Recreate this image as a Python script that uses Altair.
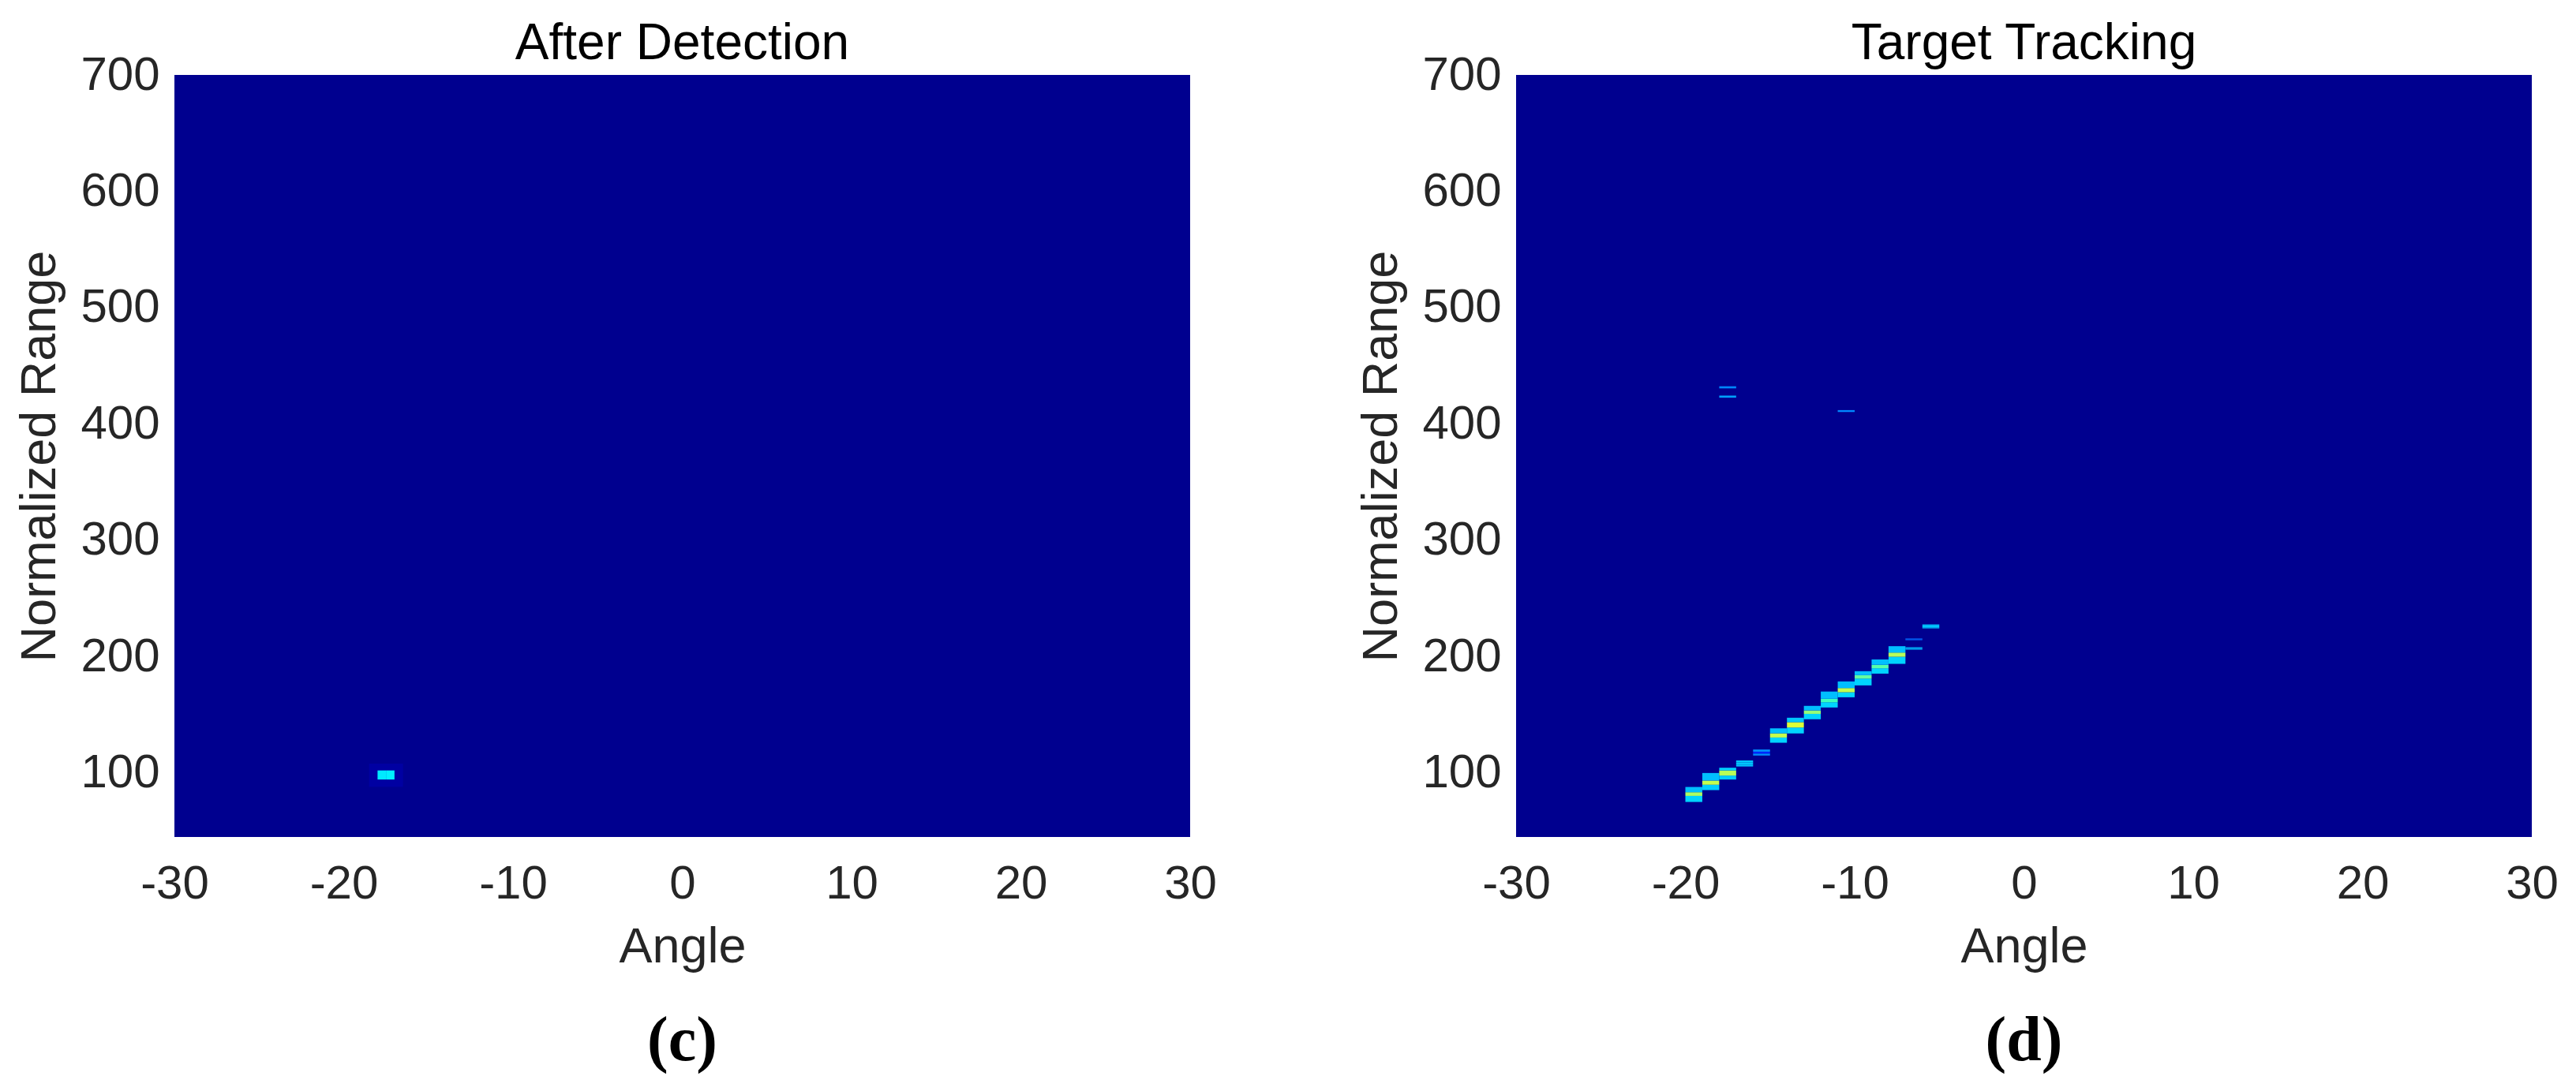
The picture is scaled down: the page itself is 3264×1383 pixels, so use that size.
import altair as alt
import pandas as pd

# ---------------- axes ----------------
x_ticks = [-30, -20, -10, 0, 10, 20, 30]
y_ticks = [100, 200, 300, 400, 500, 600, 700]
x_domain = [-30, 30]
y_domain = [45, 700]

# MATLAB jet(64) colour stops
jet_stops = [0.0, 0.111, 0.365, 0.619, 0.873, 1.0]
jet_colors = ["#00008f", "#0000ff", "#00ffff", "#ffff00", "#ff0000", "#800000"]

titles = ["After Detection", "Target Tracking"]
panel_labels = ["(c)", "(d)"]

# ---------------- panel (c): after detection ----------------
c_angle_lo = [-18.5, -18.0, -17.5]
c_angle_hi = [-16.5, -17.5, -17.0]
c_range_lo = [88.0, 94.4, 94.4]
c_range_hi = [108.0, 102.2, 102.2]
c_value = [0.02, 0.33, 0.34]

# ---------------- panel (d): target tracking ----------------
d_angle_lo = [-20, -19, -18, -17, -16, -15, -14, -13, -12, -11, -10, -9, -8, -7, -7, -6]
d_range_lo = [75.1, 85.3, 94.4, 105.6, 115.0, 126.0, 134.0, 146.2, 156.3, 165.1, 175.3, 185.4, 193.8, 206.0, 214.2, 224.3]
d_range_hi = [88.0, 100.0, 104.5, 110.8, 120.2, 138.4, 147.5, 157.7, 170.0, 178.7, 187.5, 197.6, 209.0, 208.0, 215.7, 227.7]
d_peak_range = [81.9, 91.7, 100.0, 108.2, 117.5, 132.3, 141.4, 152.3, 162.3, 171.2, 182.6, 191.5, 201.7, 207.0, 215.0, 226.0]
d_peak_half = [1.6, 1.8, 2.2, 1.0, 0.8, 1.8, 2.3, 1.5, 1.5, 1.8, 1.5, 1.5, 1.8, 0.5, 0.4, 0.8]
d_upper_val = [0.27, 0.27, 0.30, 0.28, 0.21, 0.27, 0.28, 0.27, 0.27, 0.27, 0.27, 0.27, 0.27, 0.27, 0.17, 0.28]
d_peak_val = [0.55, 0.57, 0.56, 0.28, 0.12, 0.57, 0.59, 0.53, 0.46, 0.57, 0.49, 0.48, 0.56, 0.27, 0.17, 0.28]
d_lower_val = [0.30, 0.29, 0.29, 0.28, 0.21, 0.30, 0.30, 0.30, 0.30, 0.30, 0.30, 0.30, 0.30, 0.27, 0.17, 0.28]

# faint isolated returns
f_angle_lo = [-18, -18, -11]
f_range_lo = [430.6, 422.6, 410.3]
f_range_hi = [432.4, 424.4, 411.9]
f_value = [0.20, 0.23, 0.20]

# ---------------- tables ----------------
c_df = pd.DataFrame({"a0": c_angle_lo, "a1": c_angle_hi, "r0": c_range_lo,
                     "r1": c_range_hi, "v": c_value})

rows = []
for i in range(len(d_angle_lo)):
    a0 = d_angle_lo[i]
    a1 = a0 + 1
    lo, hi = d_range_lo[i], d_range_hi[i]
    pk, h = d_peak_range[i], d_peak_half[i]
    rows.append(dict(a0=a0, a1=a1, r0=lo, r1=pk - h, v=d_lower_val[i]))
    rows.append(dict(a0=a0, a1=a1, r0=pk - h, r1=pk + h, v=d_peak_val[i]))
    rows.append(dict(a0=a0, a1=a1, r0=pk + h, r1=hi, v=d_upper_val[i]))
for i in range(len(f_angle_lo)):
    rows.append(dict(a0=f_angle_lo[i], a1=f_angle_lo[i] + 1, r0=f_range_lo[i],
                     r1=f_range_hi[i], v=f_value[i]))
d_df = pd.DataFrame(rows)

W, H = 1287, 966
SANS = "Liberation Sans, Arial, Helvetica, sans-serif"


def panel(df, title, label):
    rects = alt.Chart(df).mark_rect().encode(
        x=alt.X("a0:Q",
                scale=alt.Scale(domain=x_domain, nice=False, zero=False),
                axis=alt.Axis(values=x_ticks, title="Angle",
                              labelExpr="'' + datum.value", labelFlush=False,
                              labelPadding=30, titlePadding=19)),
        x2="a1:Q",
        y=alt.Y("r0:Q",
                scale=alt.Scale(domain=y_domain, nice=False, zero=False),
                axis=alt.Axis(values=y_ticks, title="Normalized Range",
                              labelExpr="'' + datum.value", labelFlush=False,
                              labelPadding=19, titlePadding=19)),
        y2="r1:Q",
        color=alt.Color("v:Q",
                        scale=alt.Scale(domain=jet_stops, range=jet_colors),
                        legend=None),
    )
    txt = alt.Chart(pd.DataFrame({"t": [label]})).mark_text(
        font="Liberation Serif, Times New Roman, serif", fontWeight="bold",
        fontSize=80, color="black", baseline="middle", align="center"
    ).encode(x=alt.value(W / 2), y=alt.value(H + 259), text="t:N")
    return alt.layer(rects, txt).properties(
        width=W, height=H,
        title=alt.TitleParams(title, fontSize=64, font=SANS, fontWeight="normal",
                              color="black", offset=-23, anchor="middle",
                              frame="group"))


chart = alt.hconcat(
    panel(c_df, titles[0], panel_labels[0]),
    panel(d_df, titles[1], panel_labels[1]),
    spacing=177,
).properties(
    padding={"left": 11, "top": 16, "right": 5, "bottom": 5},
    background="white",
).configure_view(
    fill="#00008f", stroke=None
).configure_axis(
    grid=False, domain=False, ticks=False, tickSize=0,
    labelFont=SANS, labelFontSize=60, labelColor="#262626",
    titleFont=SANS, titleFontSize=63, titleColor="#262626",
    titleFontWeight="normal",
)

chart.save("out.html", embed_options={"renderer": "svg", "actions": False})
